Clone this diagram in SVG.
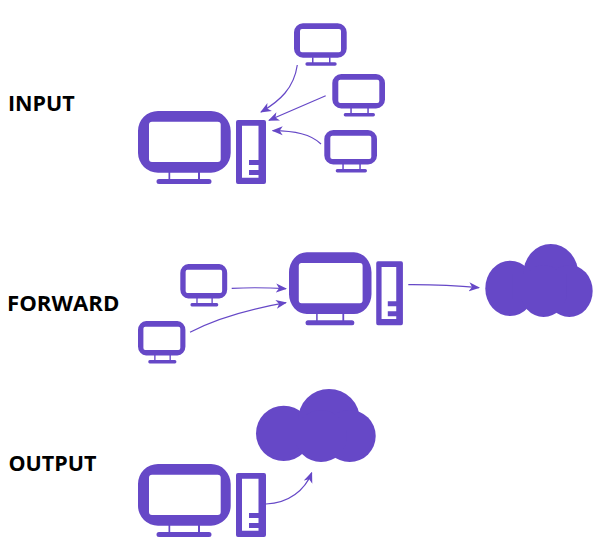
<svg xmlns="http://www.w3.org/2000/svg" xmlns:xlink="http://www.w3.org/1999/xlink" width="600" height="560" viewBox="0 0 600 560">
<style>
.lbl{font-family:"Open Sans","Liberation Sans",sans-serif;font-weight:700;font-size:21.500px;fill:#000}
.ic{fill:#6648c7;fill-rule:evenodd}
.cn{fill:none;stroke:#6648c7;stroke-width:1.2;marker-end:url(#ah)}
</style>
<defs>
<marker id="ah" viewBox="0 0 11 10" refX="10" refY="5" markerWidth="11" markerHeight="10" markerUnits="userSpaceOnUse" orient="auto">
<path d="M0 0.5L11 5L0 9.5L3 5Z" fill="#6648c7"/>
</marker>
<g id="pc" class="ic">
<path d="M20 0H73A20 20 0 0 1 92.700 20V42A20 20 0 0 1 73 61.700H20A20 20 0 0 1 0 42V20A20 20 0 0 1 20 0ZM14 10.700Q11 10.700 11 13.700V48Q11 51 14 51H79.700Q82.700 51 82.700 48V13.700Q82.700 10.700 79.700 10.700Z"/>
<path d="M30.500 61H32.200V68H60V61H62V68H71Q73.500 68 73.500 70.500Q73.500 73 71 73H21Q18.500 73 18.500 70.500Q18.500 68 21 68H30.500Z"/>
<path d="M100 9H126Q128 9 128 11V71Q128 73 126 73H100Q98 73 98 71V11Q98 9 100 9ZM104 14.700V66.700H120.500V64H111V59H120.500V54H111V49H120.500V14.700Z"/>
</g>
<g id="mini" class="ic">
<path d="M9 0H43.700A9 9 0 0 1 52.700 9V25.400A9 9 0 0 1 43.700 34.400H9A9 9 0 0 1 0 25.400V9A9 9 0 0 1 9 0ZM8 5.700Q6 5.700 6 7.700V27Q6 29 8 29H45Q47 29 47 27V7.700Q47 5.700 45 5.700Z"/>
<path d="M18 34H19.500V39H35V34H36.500V39H41Q42.700 39 42.700 40.700Q42.700 42.400 41 42.400H13Q11.400 42.400 11.400 40.700Q11.400 39 13 39H18Z"/>
</g>
<g id="cloud" class="ic" style="fill-rule:nonzero">
<circle cx="27.700" cy="44.400" r="27.700"/>
<ellipse cx="73" cy="31" rx="31" ry="31"/>
<circle cx="93.700" cy="47" r="26"/>
<circle cx="65" cy="47" r="26"/>
<rect x="30" y="30" width="60" height="25"/>
</g>
</defs>
<text class="lbl" x="8" y="111">INPUT</text>
<text class="lbl" x="7" y="311" style="font-size:22.200px">FORWARD</text>
<text class="lbl" x="8.500" y="471">OUTPUT</text>
<g id="connectors">
<path class="cn" d="M297.300 65C294 88 280 101 261 112"/>
<path class="cn" d="M325.700 95.700L269 120.300"/>
<path class="cn" d="M321 144C311 134 295 131 272.700 130.700"/>
<path class="cn" d="M231.700 288.300Q258 287 286 288.700"/>
<path class="cn" d="M190 332.300C215 319 250 309 286 302.700"/>
<path class="cn" d="M408.300 284.700Q445 284.500 479 287.700"/>
<path class="cn" d="M266 504C289 503 305 490 311.700 472.700"/>
</g>
<g id="input-server"><use xlink:href="#pc" href="#pc" transform="translate(138 111)"/></g>
<g id="input-client-1"><use xlink:href="#mini" href="#mini" transform="translate(294 23.300)"/></g>
<g id="input-client-2"><use xlink:href="#mini" href="#mini" transform="translate(332.300 74)"/></g>
<g id="input-client-3"><use xlink:href="#mini" href="#mini" transform="translate(324.300 130)"/></g>
<g id="forward-server"><use xlink:href="#pc" href="#pc" transform="translate(289 252.300) scale(.89 1)"/></g>
<g id="forward-client-1"><use xlink:href="#mini" href="#mini" transform="translate(180.300 264) scale(.89 1)"/></g>
<g id="forward-client-2"><use xlink:href="#mini" href="#mini" transform="translate(138 321) scale(.9 1)"/></g>
<g id="forward-cloud"><use xlink:href="#cloud" href="#cloud" transform="translate(485.300 244) scale(.897 1)"/></g>
<g id="output-server"><use xlink:href="#pc" href="#pc" transform="translate(138 464)"/></g>
<g id="output-cloud"><use xlink:href="#cloud" href="#cloud" transform="translate(256 389)"/></g>
</svg>
